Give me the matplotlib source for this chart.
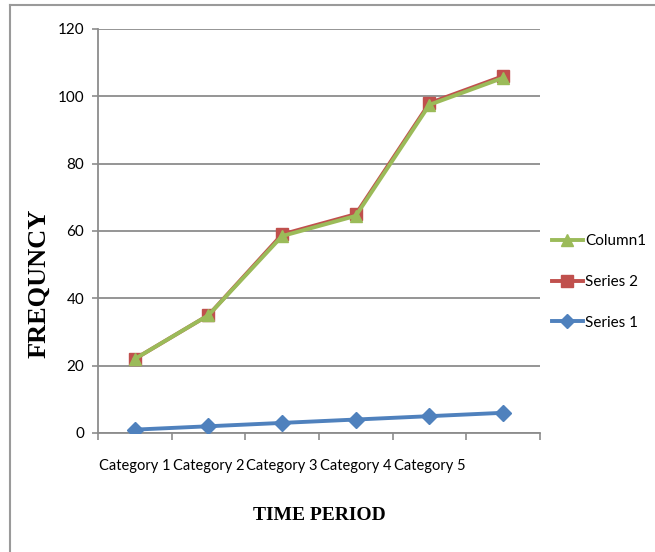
import matplotlib
matplotlib.use("Agg")
import matplotlib.pyplot as plt
from matplotlib.lines import Line2D
import numpy as np

categories = ["Category 1", "Category 2", "Category 3", "Category 4", "Category 5", ""]
series1 = [1, 2, 3, 4, 5, 6]
series2 = [22, 35, 59, 65, 98, 106]
column1 = [22, 35, 58.5, 64.5, 97.5, 105.5]
yticks = [0, 20, 40, 60, 80, 100, 120]

blue = "#4F81BD"
red = "#C0504D"
green = "#9BBB59"
grid = "#8C8C8C"
tfont = "Lato"

fig = plt.figure(figsize=(6.55, 5.52), dpi=100)
ax = fig.add_axes([98/655, 1-433/552, (540-98)/655, (433-29)/552])

x = np.arange(len(categories))
l1, = ax.plot(x, series1, color=blue, lw=2.8, marker="D", ms=8, mec=blue, zorder=3)
l2, = ax.plot(x, series2, color=red, lw=2.8, marker="s", ms=9, mec=red, zorder=4)
l3, = ax.plot(x, column1, color=green, lw=2.8, marker="^", ms=9, mec=green, zorder=5)

ax.set_xlim(-0.5, len(categories) - 0.5)
ax.set_ylim(0, 120)
ax.set_yticks(yticks)
ax.set_yticklabels([str(v) for v in yticks], fontfamily=tfont, fontsize=11)
ax.yaxis.grid(True, color=grid, lw=1.3)
ax.set_axisbelow(True)

ax.set_xticks(x)
ax.set_xticklabels(categories, fontfamily=tfont, fontsize=10.5)
ax.set_xticks(np.arange(-0.5, len(categories)), minor=True)
ax.tick_params(axis="x", which="major", length=0, pad=19)
ax.tick_params(axis="x", which="minor", length=5, color=grid, width=1.2, direction="out")
ax.tick_params(axis="y", length=4, color=grid, width=1.2, pad=6)

for s in ["top", "right"]:
    ax.spines[s].set_visible(False)
for s in ["left", "bottom"]:
    ax.spines[s].set_color(grid)
    ax.spines[s].set_linewidth(1.3)

ax.set_ylabel("FREQUNCY", fontfamily="Liberation Serif", fontweight="bold", fontsize=19)
ax.yaxis.set_label_coords(-0.108, (433-283)/404)
ax.set_xlabel("TIME PERIOD", fontfamily="Liberation Serif", fontweight="bold", fontsize=14, labelpad=24)

leg = fig.legend([l3, l2, l1], ["Column1", "Series 2", "Series 1"],
                 loc="center left", bbox_to_anchor=(552/655, 1-282/552),
                 frameon=False, prop={"family": tfont, "size": 11},
                 handlelength=2.0, handletextpad=0.15, labelspacing=1.75, markerscale=0.9,
                 borderaxespad=0, borderpad=0)

# outer border of the chart area
fig.add_artist(Line2D([10/655, 10/655], [0, 1-5/552], transform=fig.transFigure, color="#9A9A9A", lw=1.5))
fig.add_artist(Line2D([10/655, 1], [1-5/552, 1-5/552], transform=fig.transFigure, color="#9A9A9A", lw=1.5))

fig.savefig("out.png", dpi=100)
